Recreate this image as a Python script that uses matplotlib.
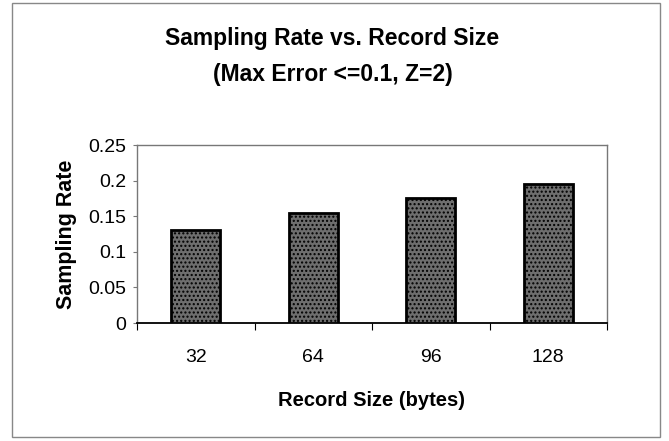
import matplotlib
matplotlib.use("Agg")
import matplotlib.pyplot as plt
from matplotlib.patches import Rectangle

record_sizes = ["32", "64", "96", "128"]
sampling_rate = [0.13, 0.154, 0.175, 0.195]
y_ticks = [0, 0.05, 0.1, 0.15, 0.2, 0.25]
y_tick_labels = ["0", "0.05", "0.1", "0.15", "0.2", "0.25"]

plt.rcParams["font.family"] = ["Liberation Sans", "DejaVu Sans"]
plt.rcParams["hatch.color"] = "#444444"
plt.rcParams["hatch.linewidth"] = 1.0

fig = plt.figure(figsize=(6.69, 4.41), dpi=100)
ax = fig.add_axes([137 / 669, 1 - 323 / 441, 470 / 669, 178 / 441])

x = range(len(record_sizes))
ax.bar(x, sampling_rate, width=0.42, color="#6e6e6e", edgecolor="black",
       linewidth=2.0, hatch="....", zorder=3)

ax.set_xlim(-0.5, len(record_sizes) - 0.5)
ax.set_ylim(0, 0.25)
ax.set_yticks(y_ticks)
ax.set_yticklabels(y_tick_labels, fontsize=14)
ax.set_xticks(x)
ax.set_xticklabels(record_sizes, fontsize=14)
ax.tick_params(axis="x", length=0, pad=19)
ax.tick_params(axis="y", length=3, width=0.8, color="#777777", pad=5)
# category boundary ticks below the x axis
ax.set_xticks([i - 0.5 for i in range(len(record_sizes) + 1)], minor=True)
ax.tick_params(axis="x", which="minor", length=5, width=0.8, direction="out")

for side in ["top", "right", "left"]:
    ax.spines[side].set_color("#777777")
    ax.spines[side].set_linestyle((0, (1, 1)))
    ax.spines[side].set_linewidth(1.0)
ax.spines["bottom"].set_linewidth(1.3)

ax.set_ylabel("Sampling Rate", fontsize=15.5, fontweight="bold", labelpad=8)
ax.set_xlabel("Record Size (bytes)", fontsize=14.5, fontweight="bold", labelpad=18)

fig.text(0.497, 1 - 38 / 441, "Sampling Rate vs. Record Size", ha="center",
         va="center", fontsize=16.5, fontweight="bold")
fig.text(0.497, 1 - 74 / 441, "(Max Error <=0.1, Z=2)", ha="center",
         va="center", fontsize=16.5, fontweight="bold")

fig.patches.append(Rectangle((12 / 669, 1 - 437 / 441), 648 / 669, 434 / 441,
                             transform=fig.transFigure, fill=False,
                             edgecolor="#888888", linewidth=1.0))

fig.savefig("out.png", dpi=100)
